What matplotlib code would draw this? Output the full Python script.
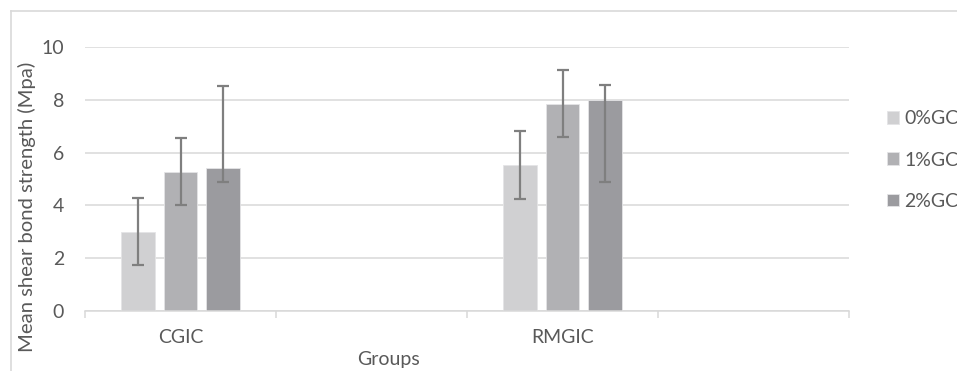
import numpy as np
import matplotlib
matplotlib.use('Agg')
import matplotlib.pyplot as plt
from matplotlib.lines import Line2D

plt.rcParams['font.family'] = ['Lato', 'DejaVu Sans']

# data
groups = ['CGIC', 'RMGIC']
group_slots = [0, 2]          # 4 category slots, 2nd and 4th are empty
n_slots = 4
series = ['0%GC', '1%GC', '2%GC']
means = {
    '0%GC': [3.01, 5.53],
    '1%GC': [5.28, 7.85],
    '2%GC': [5.41, 8.01],
}
err_low = {
    '0%GC': [1.27, 1.27],
    '1%GC': [1.26, 1.27],
    '2%GC': [0.53, 3.13],
}
err_high = {
    '0%GC': [1.27, 1.27],
    '1%GC': [1.29, 1.27],
    '2%GC': [3.13, 0.55],
}
colors = ['#d0d0d2', '#b1b1b4', '#9b9b9f']

txt = '#595959'
grid = '#d9d9d9'
fs = 14
W, H = 957, 371

fig = plt.figure(figsize=(W / 100, H / 100), dpi=100)
ax = fig.add_axes([85 / W, 1 - 311 / H, (849 - 85) / W, (311 - 47) / H])

bw = 0.173
step = 0.2225
x = np.array(group_slots, dtype=float)
bars = []
for i, s in enumerate(series):
    xs = x + (i - 1) * step
    b = ax.bar(xs, means[s], width=bw, color=colors[i], edgecolor='#e4e4e6',
               linewidth=0.6, label=s, zorder=2)
    ax.errorbar(xs, means[s], yerr=[err_low[s], err_high[s]], fmt='none',
                ecolor='#7f7f7f', elinewidth=1.6, capsize=4.2, capthick=1.6,
                zorder=3)
    bars.append(b)

ax.set_xlim(-0.5, n_slots - 0.5)
ax.set_ylim(0, 10)
ax.set_yticks(np.arange(0, 11, 2))
ax.yaxis.grid(True, color=grid, linewidth=1.1, zorder=0)
ax.set_axisbelow(True)
for sp in ['top', 'right', 'left']:
    ax.spines[sp].set_visible(False)
ax.spines['bottom'].set_color(grid)
ax.spines['bottom'].set_linewidth(1.1)

ax.set_xticks(group_slots)
ax.set_xticklabels(groups)
ax.set_xticks(np.arange(-0.5, n_slots, 1.0), minor=True)
ax.tick_params(axis='x', which='major', length=0, pad=13, labelsize=fs, labelcolor=txt)
ax.tick_params(axis='x', which='minor', length=5, width=1.1, color=grid)
ax.tick_params(axis='y', length=0, pad=15, labelsize=fs, labelcolor=txt)

fig.text(27 / W, 1 - 207 / H, 'Mean shear bond strength (Mpa)', rotation=90,
         ha='center', va='center', fontsize=14.6, color=txt)
fig.text(389 / W, 1 - 359 / H, 'Groups', ha='center', va='center',
         fontsize=fs, color=txt)

ax.legend(handles=bars, loc='center left', bbox_to_anchor=(887 / W, 1 - 160 / H),
          bbox_transform=fig.transFigure, frameon=False, fontsize=fs,
          labelcolor=txt, handlelength=0.62, handleheight=0.62,
          handletextpad=0.28, labelspacing=1.25, borderpad=0, borderaxespad=0)

# chart-area border (only left and top edges visible in the crop)
fig.add_artist(Line2D([10.5 / W, 10.5 / W], [0, 1 - 10.5 / H], color=grid,
                      linewidth=1.2, transform=fig.transFigure))
fig.add_artist(Line2D([10.5 / W, 1], [1 - 10.5 / H, 1 - 10.5 / H], color=grid,
                      linewidth=1.2, transform=fig.transFigure))

fig.savefig('out.png', dpi=100)
